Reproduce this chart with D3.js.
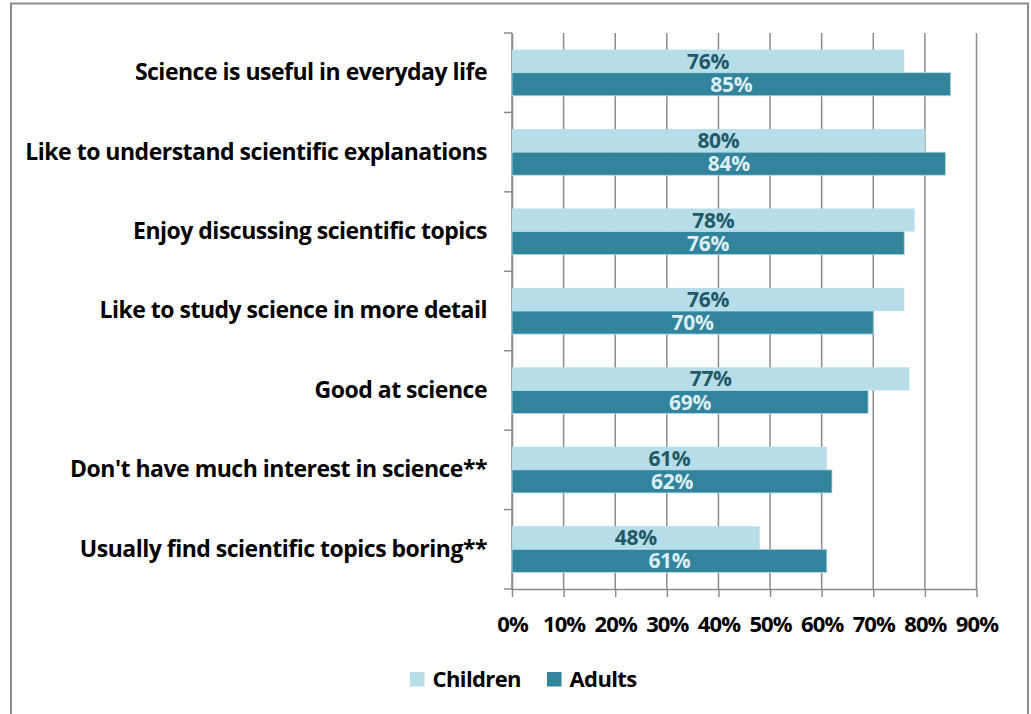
<!DOCTYPE html>
<html>
<head>
<meta charset="utf-8">
<script src="https://cdn.jsdelivr.net/npm/d3@7"></script>
<style>
  html, body { margin: 0; padding: 0; background: #fff; }
  svg { display: block; }
  text { font-family: "Open Sans", Lato, sans-serif; font-weight: bold; }
</style>
</head>
<body>
<svg id="chart" width="1031" height="714"></svg>
<script>
const categories = [
  "Science is useful in everyday life",
  "Like to understand scientific explanations",
  "Enjoy discussing scientific topics",
  "Like to study science in more detail",
  "Good at science",
  "Don't have much interest in science**",
  "Usually find scientific topics boring**"
];
const seriesNames = ["Children", "Adults"];
const children = [76, 80, 78, 76, 77, 61, 48];
const adults = [85, 84, 76, 70, 69, 62, 61];
const xTicks = [0, 10, 20, 30, 40, 50, 60, 70, 80, 90];

const colors = { Children: "#b7dde8", Adults: "#31849b" };
const labelColors = { Children: "#215968", Adults: "#dbeef4" };
const FONT = "'Open Sans', Lato, sans-serif";

const svg = d3.select("#chart");

// outer frame
svg.append("rect")
  .attr("x", 11).attr("y", 3.5)
  .attr("width", 1017).attr("height", 760)
  .attr("fill", "none").attr("stroke", "#8c8c8c").attr("stroke-width", 2);

const plotLeft = 512, plotRight = 976.5, plotTop = 33, plotBottom = 589;

const x = d3.scaleLinear().domain([0, 90]).range([plotLeft, plotRight]);
const y = d3.scaleBand().domain(categories).range([plotTop, plotBottom]);
const inner = d3.scaleBand().domain(seriesNames).range([0, y.bandwidth()]).paddingOuter(0.72).paddingInner(0);

// vertical gridlines
svg.append("g").selectAll("line").data(xTicks).join("line")
  .attr("x1", d => x(d)).attr("x2", d => x(d))
  .attr("y1", plotTop).attr("y2", plotBottom)
  .attr("stroke", "#8c8c8c").attr("stroke-width", 1.5);

// bottom axis
const xAxis = svg.append("g")
  .attr("transform", `translate(0,${plotBottom})`)
  .call(d3.axisBottom(x).tickValues(xTicks).tickFormat(d => d + "%").tickSizeInner(8).tickSizeOuter(0).tickPadding(19));
xAxis.select(".domain").attr("stroke", "#8c8c8c").attr("stroke-width", 1.5);
xAxis.selectAll(".tick line").attr("stroke", "#8c8c8c").attr("stroke-width", 1.5);
xAxis.selectAll(".tick text").attr("font-size", 22).attr("fill", "#000")
  .attr("font-family", FONT).attr("font-weight", "bold").attr("letter-spacing", -0.9);

// left axis
const yAxis = svg.append("g")
  .attr("transform", `translate(${plotLeft},0)`)
  .call(d3.axisLeft(y).tickSize(0).tickPadding(25));
yAxis.select(".domain").attr("stroke", "#8c8c8c").attr("stroke-width", 1.5);
yAxis.selectAll(".tick text").attr("font-size", 23).attr("fill", "#000")
  .attr("font-family", FONT).attr("font-weight", "bold").attr("letter-spacing", -0.5);

// category separator ticks on the left axis
const bounds = categories.map(c => y(c)).concat([plotBottom]);
svg.append("g").selectAll("line").data(bounds).join("line")
  .attr("x1", plotLeft - 8).attr("x2", plotLeft)
  .attr("y1", d => d).attr("y2", d => d)
  .attr("stroke", "#8c8c8c").attr("stroke-width", 1.5);

// bars
const rows = categories.map((c, i) => ({ cat: c, values: [
  { series: "Children", value: children[i] },
  { series: "Adults", value: adults[i] }
]}));

const groups = svg.append("g").selectAll("g").data(rows).join("g")
  .attr("transform", d => `translate(0,${y(d.cat)})`);

groups.selectAll("rect").data(d => d.values).join("rect")
  .attr("x", x(0))
  .attr("y", d => inner(d.series))
  .attr("width", d => x(d.value) - x(0))
  .attr("height", inner.bandwidth())
  .attr("fill", d => colors[d.series])
  .attr("stroke", d => d.series === "Adults" ? "#b7dde8" : "none")
  .attr("stroke-width", 0.8);

groups.selectAll("text.val").data(d => d.values).join("text")
  .attr("class", "val")
  .attr("x", d => (x(0) + x(d.value)) / 2)
  .attr("y", d => inner(d.series) + inner.bandwidth() / 2)
  .attr("dy", "0.36em")
  .attr("text-anchor", "middle")
  .attr("font-size", 21)
  .attr("letter-spacing", -0.3)
  .attr("fill", d => labelColors[d.series])
  .text(d => d.value + "%");

// legend
const legendItems = [
  { name: "Children", x: 410 },
  { name: "Adults", x: 547 }
];
const lg = svg.append("g").selectAll("g").data(legendItems).join("g")
  .attr("transform", d => `translate(${d.x},672)`);
lg.append("rect").attr("width", 14.5).attr("height", 14.5).attr("fill", d => colors[d.name]);
lg.append("text").attr("x", 22.5).attr("y", 7.5).attr("dy", "0.36em")
  .attr("font-size", 22).attr("letter-spacing", -0.6).attr("fill", "#000").text(d => d.name);
</script>
</body>
</html>
